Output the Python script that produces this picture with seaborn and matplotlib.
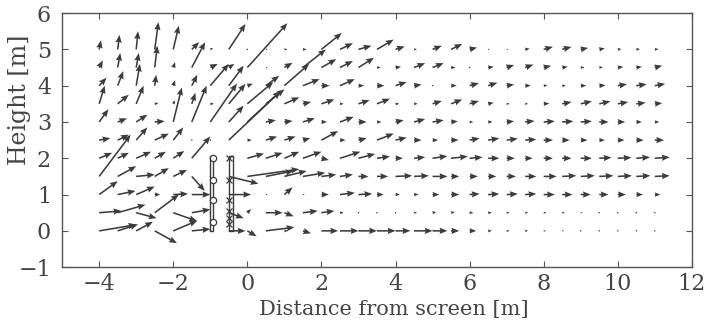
import numpy as np
import seaborn as sns
import matplotlib
matplotlib.use("Agg")
import matplotlib.pyplot as plt

# grid of measuring points
x_pos = [-4, -3.5, -3, -2.5, -2, -1.5, -1, -0.5, 0, 0.5, 1, 1.5, 2, 2.5, 3, 3.5,
         4, 4.5, 5, 5.5, 6, 6.5, 7, 7.5, 8, 8.5, 9, 9.5, 10, 10.5, 11]
y_pos = [0, 0.5, 1, 1.5, 2, 2.5, 3, 3.5, 4, 4.5, 5]

# horizontal / vertical components, one list per row (y = 0 ... 5)
u_00 = [1.0, .55, .45, .6, .65, .5, 0, .45, .25, .77, .1, .22, .45, .5, .5, .5,
        .4, .5, .4, .22, .18, .1, .08, .08, .06, .05, .04, .03, .02, .02, 0]
v_00 = [.17, .18, .25, -.34, .28, .05, 0, 0, -.15, .1, 0, -.07, 0, 0, 0, 0,
        0, 0, 0, 0, 0, 0, 0, 0, 0, 0, 0, 0, 0, 0, 0]
u_05 = [.6, .75, .55, .65, .64, .5, 0, .4, .1, .45, .25, .4, .35, .1, .03, .03,
        .02, .08, .1, .1, .1, .1, .08, .08, .07, .07, .05, .04, .03, .02, .02]
v_05 = [.05, .22, -.15, .5, -.23, .09, 0, -.15, .1, 0, -.1, .05, .05, 0, 0, 0,
        0, 0, .02, .02, 0, 0, 0, 0, 0, 0, 0, 0, 0, 0, 0]
u_10 = [.5, .48, .5, .15, .4, .5, 0, .6, .05, .05, .22, .05, .2, .4, .37, .18,
        .12, .12, .18, .22, .27, .3, .3, .3, .3, .28, .27, .25, .22, .18, .15]
v_10 = [.37, .1, .22, 0, .02, 0, 0, 0, 0, 0, .2, 0, 0, .05, .02, 0,
        0, 0, 0, 0, .02, .02, .02, .02, 0, 0, 0, 0, 0, 0, 0]
u_15 = [.85, .5, .5, .38, .37, .35, 0, .8, 1.4, .75, .6, .6, .4, .35, .27, .3,
        .45, .4, .4, .22, .22, .22, .25, .3, .35, .38, .38, .38, .38, .38, .4]
v_15 = [1.15, .28, .05, .23, .18, -.4, 0, -.2, .2, .15, .15, .1, .05, .05, 0, 0,
        .02, .02, 0, 0, 0, 0, 0, 0, 0, .02, .02, .02, .02, .02, .02]
u_20 = [.35, .3, .4, .3, .3, .5, 0, 0, .45, .45, .4, .5, .2, .55, .45, .35,
        .2, .3, .4, .45, .35, .3, .22, .2, .25, .25, .3, .33, .37, .37, .4]
v_20 = [.15, .15, .18, .18, .2, .6, 0, 0, .13, .15, .18, .18, -.05, .18, .12, .05,
        0, .03, .06, .05, .03, 0, 0, 0, 0, 0, 0, .02, .02, .03, .03]
u_25 = [.3, .3, .3, .38, .27, 0, .03, 1.4, .12, .3, .3, .2, .45, .15, .22, .45,
        .3, .2, .15, .2, .27, .3, .3, .3, .25, .2, .18, .15, .18, .2, .25]
v_25 = [.05, .15, .35, .18, .35, 0, 0, 1.35, 0, .1, .1, .05, .25, 0, .05, .18,
        .07, 0, 0, 0, .05, .05, .04, .02, 0, 0, 0, 0, 0, 0, 0]
u_30 = [.25, .25, .3, .27, .23, .4, .72, .4, .9, .27, .22, .32, .15, .37, .22, .12,
        .22, .3, .3, .18, .1, .12, .2, .25, .3, .3, .3, .25, .2, .15, .12]
v_30 = [.35, .1, .2, .02, .95, 1.0, 1.06, .45, .85, .05, .03, .1, 0, .14, 0, 0,
        .05, .08, .05, .02, 0, 0, .02, .03, .02, .02, .02, 0, 0, 0, 0]
u_35 = [.15, .3, .2, .1, .05, .1, .1, .45, .7, .5, .4, .22, .35, .1, .3, .35,
        .1, .1, .25, .3, .25, .15, .08, .08, .15, .25, .3, .3, .28, .25, .2]
v_35 = [.5, .25, .5, .02, .1, .3, 0, .55, .6, .4, .18, .05, .12, 0, .1, .14,
        0, 0, .08, .12, .08, .03, 0, 0, .01, .05, .07, .07, .05, .03, .02]
u_40 = [.2, .15, .1, .04, .05, .15, .5, .4, .15, .36, .67, .45, .22, .4, .15, .2,
        .3, .2, .02, .15, .25, .25, .2, .15, .1, .1, .15, .17, .25, .28, .28]
v_40 = [.22, .4, .6, .3, .15, .3, .6, .55, .05, .27, .6, .18, 0, .18, 0, 0,
        .1, .03, 0, 0, .07, .08, .03, 0, 0, 0, 0, .01, .04, .04, .05]
u_45 = [.1, .07, .07, .07, .05, .36, .2, .15, 1.08, .05, .22, .62, .4, .35, .42, .1,
        .15, .3, .3, .12, .03, .15, .2, .22, .2, .15, .1, .1, .15, .15, .2]
v_45 = [.2, .4, .4, .6, .15, .7, .1, .1, 1.22, 0, .13, .5, .23, .18, .27, 0,
        .02, .12, .12, 0, 0, .02, .07, .08, .05, .02, .01, .01, .02, .02, .05]
u_50 = [.05, .05, .05, .1, .15, .2, .08, .45, .02, .05, .08, .1, .55, .35, .35, .45,
        .25, .08, .25, .3, .2, .05, .05, .12, .25, .25, .2, .15, .1, .1, .1]
v_50 = [.25, .4, .5, .75, .65, .2, .03, .7, 0, 0, 0, 0, .45, .17, .1, .27,
        .08, 0, .1, .15, .05, 0, 0, .02, .07, .07, .04, .03, .01, .01, .01]

# screen (two slats) and sensor marks on them
left_slat_x = [-1.02, -0.92]
right_slat_x = [-0.5, -0.4]
slat_top = 2.05
left_marks_y = [2.0, 1.4, 0.85, 0.25]
right_marks_y = [2.0, 1.4, 0.85, 0.55, 0.35, 0.2]

x_ticks = [-4, -2, 0, 2, 4, 6, 8, 10, 12]
y_ticks = [-1, 0, 1, 2, 3, 4, 5, 6]

U = np.array([u_00, u_05, u_10, u_15, u_20, u_25, u_30, u_35, u_40, u_45, u_50])
V = np.array([v_00, v_05, v_10, v_15, v_20, v_25, v_30, v_35, v_40, v_45, v_50])
X, Y = np.meshgrid(x_pos, y_pos)

sns.set_style("ticks")
plt.rcParams["font.family"] = ["DejaVu Serif"]

fig = plt.figure(figsize=(7.14, 3.27), dpi=100)
ax = fig.add_axes([0.087, 0.183, 0.882, 0.777])

ink = "#3c3c3c"
txt = "#444444"
ax.quiver(X, Y, U, V, angles="xy", scale_units="xy", scale=1, color=ink,
          width=0.0025, headwidth=4, headlength=5, headaxislength=4.5)

for xs in (left_slat_x, right_slat_x):
    ax.plot([xs[0], xs[0], xs[1], xs[1], xs[0]], [0, slat_top, slat_top, 0, 0],
            color=ink, lw=1)
ax.plot([left_slat_x[1]] * len(left_marks_y), left_marks_y, "o", ms=4.5,
        mfc="white", mec=ink, mew=0.9)
ax.plot([right_slat_x[0]] * len(right_marks_y), right_marks_y, "x", ms=4,
        color=ink, mew=0.9)

ax.set_xlim(-5, 12)
ax.set_ylim(-1, 6)
ax.set_xticks(x_ticks)
ax.set_yticks(y_ticks)
ax.tick_params(direction="in", top=True, right=True, length=4, width=0.8,
               color="#555555", labelsize=16, labelcolor=txt, pad=4)
ax.tick_params(axis="y", pad=8)
for s in ax.spines.values():
    s.set_color("#555555")
    s.set_linewidth(1.0)
ax.set_xlabel("Distance from screen [m]", fontsize=15, color=txt, va="top")
ax.xaxis.set_label_coords(0.527, -0.13)
ax.set_ylabel("Height [m]", fontsize=17, color=txt)
ax.yaxis.set_label_coords(-0.05, 0.66)

fig.savefig("out.png", dpi=100)
